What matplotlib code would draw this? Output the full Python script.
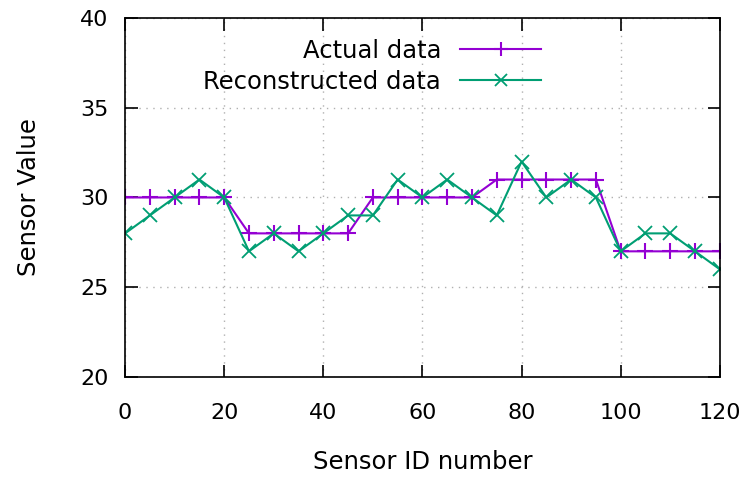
import matplotlib.pyplot as plt

sensor_id = [0, 5, 10, 15, 20, 25, 30, 35, 40, 45, 50, 55, 60, 65, 70,
             75, 80, 85, 90, 95, 100, 105, 110, 115, 120]
actual = [30, 30, 30, 30, 30, 28, 28, 28, 28, 28, 30, 30, 30, 30, 30,
          31, 31, 31, 31, 31, 27, 27, 27, 27, 27]
reconstructed = [28, 29, 30, 31, 30, 27, 28, 27, 28, 29, 29, 31, 30, 31, 30,
                 29, 32, 30, 31, 30, 27, 28, 28, 27, 26]

plt.rcParams['font.family'] = ['DejaVu Sans']

fig = plt.figure(figsize=(7.49, 4.80), dpi=100)
ax = fig.add_axes([0.167, 0.2146, 0.794, 0.748])

ax.plot(sensor_id, actual, color='#9400D3', lw=1.5, marker='+', ms=12,
        mew=1.5, label='Actual data')
ax.plot(sensor_id, reconstructed, color='#009E73', lw=1.5, marker='x', ms=10,
        mew=1.3, label='Reconstructed data')

ax.set_xlim(0, 120)
ax.set_ylim(20, 40)
ax.set_xticks(range(0, 121, 20))
ax.set_yticks(range(20, 41, 5))
ax.grid(True, color='#b0b0b0', linestyle=(0, (1, 4)), lw=1)
ax.tick_params(direction='in', top=True, right=True, length=9, width=1.2,
               labelsize=16, pad=12)
ax.tick_params(axis='x', pad=19)
for s in ax.spines.values():
    s.set_linewidth(1.2)

ax.set_xlabel('Sensor ID number', fontsize=17.5, labelpad=19)
ax.set_ylabel('Sensor Value', fontsize=17.5, labelpad=28)

leg = ax.legend(loc='upper right', bbox_to_anchor=(0.707, 0.956),
                frameon=False, markerfirst=False, fontsize=17.5,
                handlelength=3.3, handletextpad=0.8, labelspacing=0.3,
                borderaxespad=0, borderpad=0.2, markerscale=0.8)

fig.savefig('out.png', dpi=100)
plt.close(fig)
